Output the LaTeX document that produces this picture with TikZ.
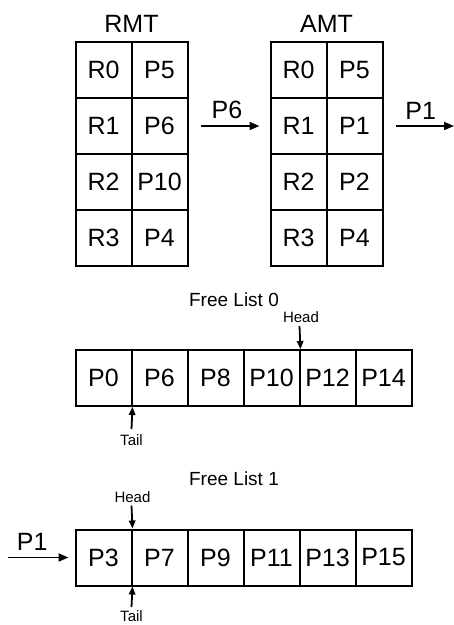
\documentclass[tikz,border=0pt]{standalone}
\usepackage{fontspec}
\setmainfont{Liberation Sans}
\usetikzlibrary{arrows.meta}
\begin{document}
\begin{tikzpicture}[x=1pt,y=-1pt,
  cell/.style={draw, line width=2pt, minimum width=56pt, minimum height=56pt,
               inner sep=0pt, font=\fontsize{25}{26}\selectfont},
  title/.style={inner sep=0pt, font=\fontsize{25}{26}\selectfont},
  listtitle/.style={inner sep=0pt, font=\fontsize{19}{20}\selectfont},
  ptrlabel/.style={inner sep=0pt, font=\fontsize{15}{16}\selectfont},
  flow/.style={line width=1.8pt, -{Triangle[length=10pt,width=8pt]}},
  ptr/.style={line width=1.8pt, -{Triangle[length=8pt,width=6.5pt]}}]
\useasboundingbox (0,0) rectangle (454,625);

% Register mapping table
\node[title] (rmtt) at (131.5,23.5) {RMT};
\node[cell] (r0r) at (103.5,70) {R0};  \node[cell] (r0p) at (159.5,70) {P5};
\node[cell] (r1r) at (103.5,126) {R1}; \node[cell] (r1p) at (159.5,126) {P6};
\node[cell] (r2r) at (103.5,182) {R2}; \node[cell] (r2p) at (159.5,182) {P10};
\node[cell] (r3r) at (103.5,238) {R3}; \node[cell] (r3p) at (159.5,238) {P4};

% Architectural mapping table
\node[title] (amtt) at (326.5,23.5) {AMT};
\node[cell] (a0r) at (298.5,70) {R0};  \node[cell] (a0p) at (354.5,70) {P5};
\node[cell] (a1r) at (298.5,126) {R1}; \node[cell] (a1p) at (354.5,126) {P1};
\node[cell] (a2r) at (298.5,182) {R2}; \node[cell] (a2p) at (354.5,182) {P2};
\node[cell] (a3r) at (298.5,238) {R3}; \node[cell] (a3p) at (354.5,238) {P4};

% Commit flow between the tables
\draw[flow] ([xshift=12pt]r1p.east) -- node[title, above=6pt, xshift=-3pt] (p6l) {P6} ([xshift=-10pt]a1r.west);
\coordinate (outr) at (454,126);
\draw[flow] ([xshift=12pt]a1p.east) -- node[title, above=6pt, xshift=-4pt] (p1l) {P1} (outr);

% Free list 0
\node[listtitle] (fl0t) at (234,300) {Free List 0};
\node[cell] (f0a) at (103.5,378) {P0};
\node[cell] (f0b) at (159.5,378) {P6};
\node[cell] (f0c) at (215.5,378) {P8};
\node[cell] (f0d) at (271.5,378) {P10};
\node[cell] (f0e) at (327.5,378) {P12};
\node[cell] (f0f) at (383.5,378) {P14};
\node[ptrlabel] (h0) at (301,317.5) {Head};
\coordinate (h0s) at (299.5,326);
\draw[ptr] (h0s) -- (f0d.north east);
\node[ptrlabel] (t0) at (131.5,440) {Tail};
\coordinate (t0s) at (131.5,429);
\draw[ptr] (t0s) -- (f0a.south east);

% Free list 1
\node[listtitle] (fl1t) at (234,479) {Free List 1};
\node[cell] (f1a) at (103.5,557.5) {P3};
\node[cell] (f1b) at (159.5,557.5) {P7};
\node[cell] (f1c) at (215.5,557.5) {P9};
\node[cell] (f1d) at (271.5,557.5) {P11};
\node[cell] (f1e) at (327.5,557.5) {P13};
\node[cell] (f1f) at (383.5,557.5) {P15};
\node[ptrlabel] (h1) at (132.5,497) {Head};
\coordinate (h1s) at (131.5,505.5);
\draw[ptr] (h1s) -- (f1a.north east);
\node[ptrlabel] (t1) at (131.5,616.5) {Tail};
\coordinate (t1s) at (131.5,607);
\draw[ptr] (t1s) -- (f1a.south east);

% Freed register entering list 1
\coordinate (inl) at (8,557.5);
\draw[flow] (inl) -- node[title, above=6pt, xshift=-6pt] (p1in) {P1} ([xshift=-6pt]f1a.west);
\end{tikzpicture}
\end{document}
